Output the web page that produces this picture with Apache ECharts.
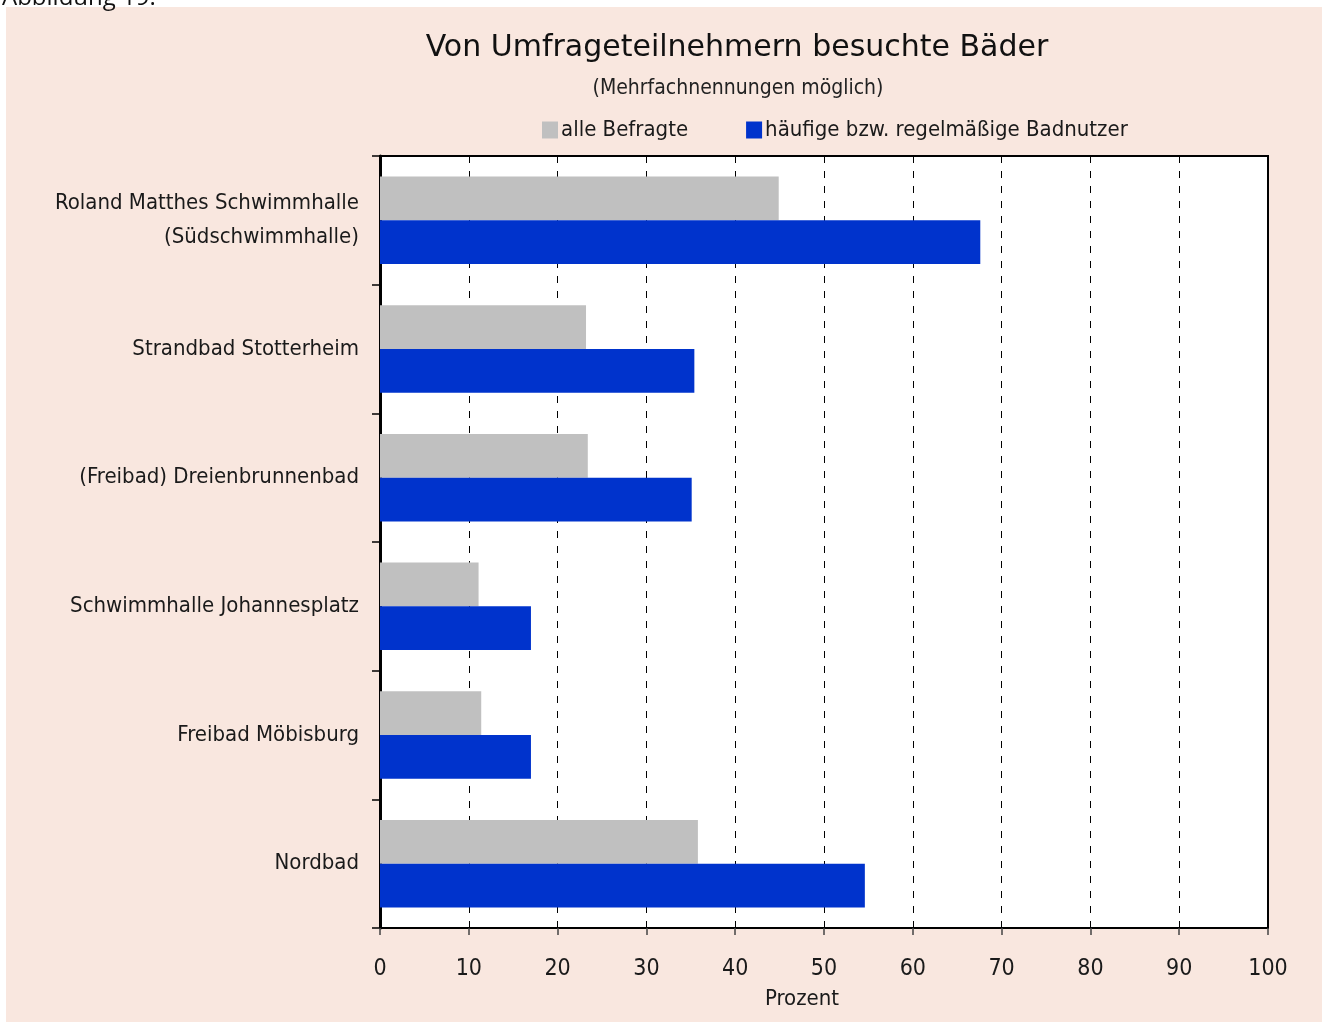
<!DOCTYPE html>
<html>
<head>
<meta charset="utf-8">
<script src="https://cdn.jsdelivr.net/npm/echarts@6/dist/echarts.min.js"></script>
<style>
  html, body { margin: 0; padding: 0; background: #fff; }
  #chart { width: 1324px; height: 1025px; }
</style>
</head>
<body>
<div id="chart"></div>
<script>
const categories = [
  'Roland Matthes Schwimmhalle\n(Südschwimmhalle)',
  'Strandbad Stotterheim',
  '(Freibad) Dreienbrunnenbad',
  'Schwimmhalle Johannesplatz',
  'Freibad Möbisburg',
  'Nordbad'
]
const alleBefragte = [44.9, 23.2, 23.4, 11.1, 11.4, 35.8]
const regelmaessig = [67.6, 35.4, 35.1, 17.0, 17.0, 54.6]
const xTicks = [0, 10, 20, 30, 40, 50, 60, 70, 80, 90, 100]

const FONT = '"Liberation Sans Narrow", "DejaVu Sans Condensed", "Liberation Sans", sans-serif'
const chart = echarts.init(document.getElementById('chart'))

const option = {
  backgroundColor: '#ffffff',
  textStyle: { fontFamily: FONT, color: '#1a1a1a' },
  graphic: [
    {
      type: 'rect', z: -10, silent: true,
      shape: { x: 6, y: 7, width: 1316, height: 1015 },
      style: { fill: '#f9e7df' }
    },
    {
      type: 'text', left: 2, top: -14,
      style: { text: 'Abbildung 19:', font: '24px "Open Sans", sans-serif', fill: '#111' }
    }
  ],
  title: [
    {
      text: 'Von Umfrageteilnehmern besuchte Bäder',
      left: 732, top: 28, textAlign: 'center',
      textStyle: { fontFamily: '"DejaVu Sans", sans-serif', fontSize: 30, fontWeight: 'normal', color: '#111' }
    },
    {
      text: '(Mehrfachnennungen möglich)',
      left: 733, top: 73, textAlign: 'center',
      textStyle: { fontFamily: FONT, fontSize: 21, fontWeight: 'normal', color: '#222' }
    }
  ],
  legend: {
    left: 537, top: 114,
    itemWidth: 16, itemHeight: 17, itemGap: 58,
    icon: 'rect',
    textStyle: { fontFamily: FONT, fontSize: 22, color: '#1a1a1a', padding: [0, 0, 0, -2] },
    data: ['alle Befragte', 'häufige bzw. regelmäßige Badnutzer']
  },
  grid: { left: 380, top: 156, right: 56, bottom: 97, show: true, backgroundColor: '#ffffff', borderColor: '#000', borderWidth: 2 },
  xAxis: {
    type: 'value', min: 0, max: 100, interval: 10,
    name: 'Prozent', nameLocation: 'middle', nameGap: 60,
    nameTextStyle: { fontFamily: FONT, fontSize: 22, color: '#1a1a1a', padding: [0, 44, 0, 0] },
    axisLine: { show: true, lineStyle: { color: '#000', width: 2 } },
    axisTick: { show: true, length: 7, lineStyle: { color: '#444', width: 1.5 } },
    axisLabel: { fontFamily: FONT, fontSize: 23, color: '#1a1a1a', margin: 30,
      formatter: v => xTicks.includes(v) ? String(v) : '' },
    splitLine: { show: true, lineStyle: { color: '#000', type: [7, 8], width: 1 } }
  },
  yAxis: {
    type: 'category', inverse: true, data: categories,
    axisLine: { show: true, lineStyle: { color: '#000', width: 3 } },
    axisTick: { show: true, length: 8, lineStyle: { color: '#000', width: 1.5 } },
    axisLabel: { fontFamily: FONT, fontSize: 22, color: '#1a1a1a', margin: 21, lineHeight: 34, align: 'right' },
    splitLine: { show: false }
  },
  series: [
    {
      name: 'alle Befragte', type: 'bar', data: alleBefragte,
      itemStyle: { color: '#c0c0c0' },
      barGap: '0%', barCategoryGap: '32%'
    },
    {
      name: 'häufige bzw. regelmäßige Badnutzer', type: 'bar', data: regelmaessig,
      itemStyle: { color: '#0033cc' },
      barGap: '0%', barCategoryGap: '32%'
    }
  ]
}

chart.setOption(option)
</script>
</body>
</html>
